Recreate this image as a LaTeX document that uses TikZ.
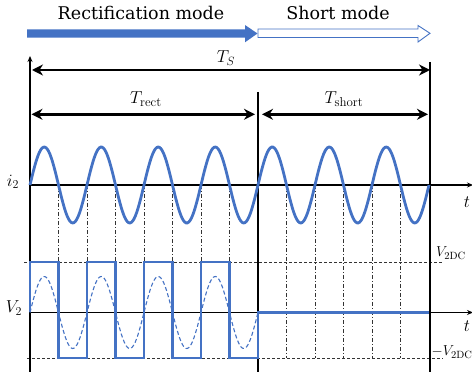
\documentclass[tikz,border=0pt]{standalone}
\usepackage{fontspec}
\newfontfamily\labfont{DejaVu Serif}
\usetikzlibrary{arrows.meta}
\definecolor{wblue}{HTML}{4472C4}
\begin{document}
\begin{tikzpicture}[x=1pt,y=-1pt,
  axisln/.style={line width=1.6pt,black},
  bound/.style={line width=2.4pt,black},
  span/.style={line width=2.6pt,black,{Stealth[length=11pt,width=11pt]}-{Stealth[length=11pt,width=11pt]}},
  lbl/.style={inner sep=0pt,font=\labfont\fontsize{17.5}{20}\selectfont},
  mlbl/.style={inner sep=0pt,font=\fontsize{18.5}{21}\selectfont},
  slbl/.style={inner sep=0pt,font=\fontsize{15}{17}\selectfont},
  guide/.style={line width=0.7pt,black!80,dash pattern=on 4pt off 2pt on 1pt off 2pt},
  level/.style={line width=0.8pt,black!80,dash pattern=on 3pt off 2pt},
  wave/.style={line width=2.6pt,wblue},
  thinwave/.style={line width=1.1pt,wblue,dash pattern=on 4pt off 2.5pt}
]
\useasboundingbox (0,0) rectangle (472,374);

% mode arrows
\fill[wblue] (27,29.3) -- (245,29.3) -- (245,25) -- (257.5,33.5) -- (245,42.3) -- (245,37.7) -- (27,37.7) -- cycle;
\draw[wblue,line width=0.9pt,fill=white] (258,29) -- (418,29) -- (418,25.5) -- (430,33.3) -- (418,42) -- (418,37.5) -- (258,37.5) -- cycle;
\node[lbl] (rm) at (141,13) {Rectification mode};
\node[lbl] (sm) at (338,13) {Short mode};

% coordinates
\coordinate (ax0) at (30,372);
\coordinate (ax1) at (30,56);
\coordinate (rt0) at (430,62);
\coordinate (rt1) at (430,372);
\coordinate (md0) at (258,92);
\coordinate (md1) at (258,372);
\coordinate (tsL) at (32,70);
\coordinate (tsR) at (430,70);
\coordinate (trL) at (31.5,114.3);
\coordinate (trR) at (255,114.3);
\coordinate (tshL) at (262,114.3);
\coordinate (tshR) at (428,114.3);
\coordinate (i0) at (30,185);
\coordinate (i1) at (473,185);
\coordinate (v0) at (30,312.5);
\coordinate (v1) at (473,312.5);
\coordinate (hp0) at (24,262);
\coordinate (hp1) at (443,262);
\coordinate (hn0) at (27,358);
\coordinate (hn1) at (443,358);

% guide lines
\foreach \k in {1,...,7,9,10,11,12,13} {
  \draw[guide] ({30+28.5*\k},185) -- ({30+28.5*\k},358);
}
\draw[level] (hp0) -- (hp1);
\draw[level] (hn0) -- (hn1);

% axes
\draw[axisln,-{Stealth[length=6pt,width=5pt]}] (ax0) -- (ax1);
\draw[bound] (rt0) -- (rt1);
\draw[bound] (md0) -- (md1);
\draw[line width=1.5pt,-{Stealth[length=6pt,width=5pt]}] (i0) -- (i1);
\draw[line width=1.5pt,-{Stealth[length=6pt,width=5pt]}] (v0) -- (v1);

% spans
\draw[span] (tsL) -- (tsR);
\draw[span] (trL) -- (trR);
\draw[span] (tshL) -- (tshR);
\node[mlbl] (ts) at (226,58) {$T_S$};
\node[mlbl] (tr) at (146,99) {$T_{\mathrm{rect}}$};
\node[mlbl] (tsh) at (344,99) {$T_{\mathrm{short}}$};

% labels
\node[mlbl] (il) at (13,182) {$i_2$};
\node[mlbl] (vl) at (14,308) {$V_2$};
\node[mlbl] (t1) at (467,202) {$t$};
\node[mlbl] (t2) at (467,326) {$t$};
\node[slbl] (vp) at (451,253) {$V_{\mathrm{2DC}}$};
\node[slbl] (vn) at (452,352) {$-V_{\mathrm{2DC}}$};

% current sine
\draw[wave,line width=2.8pt] plot[domain=30:429,samples=300,smooth] (\x,{185-38*sin(6.3158*(\x-30))});
% reference sine in V2
\draw[thinwave] plot[domain=30:258,samples=200,smooth] (\x,{312.5-36*sin(6.3158*(\x-30))});
% square wave
\draw[wave,line join=miter] (30,312.5) -- (30,262)
  -- (58.5,262) -- (58.5,358) -- (87,358) -- (87,262)
  -- (115.5,262) -- (115.5,358) -- (144,358) -- (144,262)
  -- (172.5,262) -- (172.5,358) -- (201,358) -- (201,262)
  -- (229.5,262) -- (229.5,358) -- (258,358)
  -- (258,312.5) -- (429,312.5);
\end{tikzpicture}
\end{document}
